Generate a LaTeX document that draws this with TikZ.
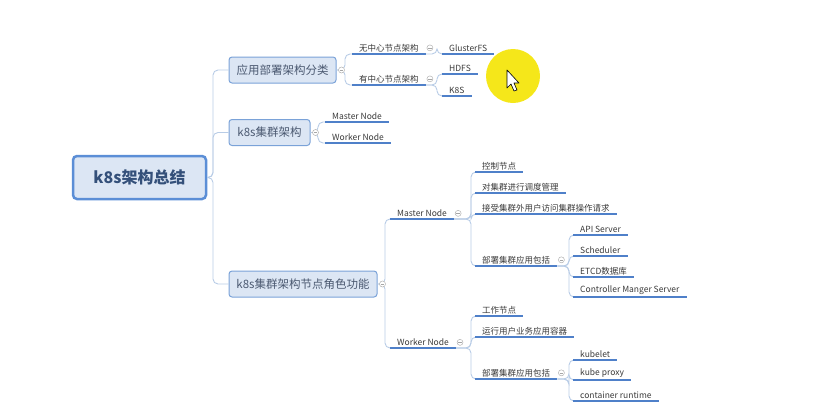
\documentclass[tikz,border=0pt]{standalone}
\usepackage{fontspec}
\setmainfont{Noto Sans CJK SC}
\usetikzlibrary{positioning}
\definecolor{boxfill}{HTML}{DCE6F4}
\definecolor{boxline}{HTML}{7AA2D8}
\definecolor{rootline}{HTML}{5B8ED6}
\definecolor{roottext}{HTML}{34507A}
\definecolor{branchtext}{HTML}{4A5870}
\definecolor{leaftext}{HTML}{3A3A3A}
\definecolor{ulinecol}{HTML}{4F80C9}
\definecolor{connline}{HTML}{B8CCE6}
\definecolor{hilite}{HTML}{F5E71A}

\begin{document}
\begin{tikzpicture}[x=1pt,y=-1pt,
  root/.style={draw=rootline, line width=2.5pt, fill=boxfill, rounded corners=4pt,
    minimum width=133pt, minimum height=43pt, text=roottext,
    font=\fontsize{16}{18}\selectfont\bfseries},
  branch/.style={draw=boxline, line width=1pt, fill=boxfill, rounded corners=3pt,
    minimum height=26pt, inner xsep=6pt, text=branchtext,
    font=\fontsize{11.5}{13}\selectfont},
  leaf/.style={anchor=south west, inner xsep=7pt, inner ysep=2pt, text=leaftext,
    font=\fontsize{8.5}{10}\selectfont},
  conn/.style={draw=connline, line width=0.9pt, rounded corners=5pt},
  fork/.style={to path={-- (\tikztostart -| #1) |- (\tikztotarget)}},
  uline/.style={draw=ulinecol, line width=1.6pt},
  marker/.style={circle, draw=gray!60, fill=white, line width=0.5pt, inner sep=0pt,
    minimum size=6pt, path picture={\draw[gray!70, line width=0.5pt]
      ([xshift=-1.8pt]path picture bounding box.center) --
      ([xshift=1.8pt]path picture bounding box.center);}}]
\useasboundingbox (0,0) rectangle (830,418);

% Root and main branches
\node[root] (root) at (139.5,177.5) {k8s架构总结};
\node[branch, minimum width=107pt] (b1) at (282.5,70) {应用部署架构分类};
\node[branch, minimum width=81pt] (b2) at (269.5,132.5) {k8s集群架构};
\node[branch, minimum width=148pt] (b3) at (303,284) {k8s集群架构节点角色功能};

% Deployment kinds
\node[leaf] (c11) at (352,54) {无中心节点架构};
\node[leaf] (c12) at (352,85) {有中心节点架构};
\node[leaf] (gfs) at (442,54) {GlusterFS};
\node[leaf] (hdfs) at (442,74) {HDFS};
\node[leaf] (k8s) at (442,96) {K8S};

% Cluster layout
\node[leaf] (b2m) at (325,122) {Master Node};
\node[leaf] (b2w) at (325,143) {Worker Node};

% Node roles
\node[leaf] (mn) at (390,219) {Master Node};
\node[leaf] (wn) at (390,348) {Worker Node};
\node[leaf] (m1) at (475,172) {控制节点};
\node[leaf] (m2) at (475,193) {对集群进行调度管理};
\node[leaf] (m3) at (475,214) {接受集群外用户访问集群操作请求};
\node[leaf] (m4) at (475,266) {部署集群应用包括};
\node[leaf] (api) at (573,235) {API Server};
\node[leaf] (sch) at (573,256) {Scheduler};
\node[leaf] (etcd) at (573,277) {ETCD数据库};
\node[leaf] (cms) at (573,297) {Controller Manger Server};
\node[leaf] (w1) at (475,316) {工作节点};
\node[leaf] (w2) at (475,337) {运行用户业务应用容器};
\node[leaf] (w3) at (475,379) {部署集群应用包括};
\node[leaf] (kl) at (573,360) {kubelet};
\node[leaf] (kp) at (573,380) {kube proxy};
\node[leaf] (cr) at (573,401) {container runtime};

% Spine positions
\coordinate (s0) at (213,0);
\coordinate (s1) at (345,0);
\coordinate (s2) at (318,0);
\coordinate (s3) at (385,0);
\coordinate (s4) at (437,0);
\coordinate (s5) at (471,0);
\coordinate (s6) at (569,0);

% Connectors
\foreach \c in {b1,b2,b3} \draw[conn] (root.east) to[fork=s0] (\c.west);
\foreach \c in {c11,c12} \draw[conn] (b1.east) to[fork=s1] (\c.south west);
\foreach \c in {b2m,b2w} \draw[conn] (b2.east) to[fork=s2] (\c.south west);
\foreach \c in {mn,wn} \draw[conn] (b3.east) to[fork=s3] (\c.south west);
\draw[conn] (c11.south east) to[fork=s4] (gfs.south west);
\foreach \c in {hdfs,k8s} \draw[conn] (c12.south east) to[fork=s4] (\c.south west);
\foreach \c in {m1,m2,m3,m4} \draw[conn] (mn.south east) to[fork=s5] (\c.south west);
\foreach \c in {api,sch,etcd,cms} \draw[conn] (m4.south east) to[fork=s6] (\c.south west);
\foreach \c in {w1,w2,w3} \draw[conn] (wn.south east) to[fork=s5] (\c.south west);
\foreach \c in {kl,kp,cr} \draw[conn] (w3.south east) to[fork=s6] (\c.south west);

% Underlines
\foreach \n in {c11,c12,gfs,hdfs,k8s,b2m,b2w,mn,wn,m1,m2,m3,m4,api,sch,etcd,cms,w1,w2,w3,kl,kp,cr}
  \draw[uline] (\n.south west) -- (\n.south east);

% Collapse markers
\foreach \n in {b1,b2,b3} \node[marker] at ([xshift=5pt]\n.east) {};
\foreach \n in {c11,c12,mn,wn,m4,w3} \node[marker] at ([xshift=4pt]\n.east) {};

% Pointer highlight
\fill[hilite] (513,76) circle (27pt);
\draw[fill=white, line width=0.6pt, line join=round] (507,70) -- (507,88) -- (511,84)
  -- (514,91) -- (517,90) -- (514,83) -- (519,83) -- cycle;
\end{tikzpicture}
\end{document}
